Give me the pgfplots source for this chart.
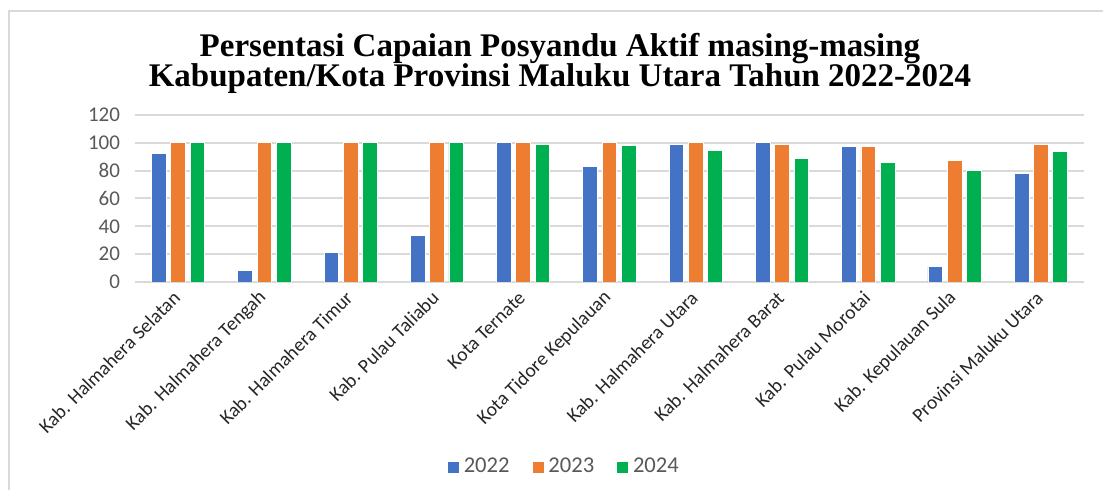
\documentclass[border=0pt]{standalone}
\usepackage{pgfplots}
\pgfplotsset{compat=1.18}
\usepackage{fontspec}
\setmainfont{Carlito}
\newfontfamily\titlefont{Liberation Serif}
\definecolor{c22}{HTML}{4472C4}
\definecolor{c23}{HTML}{ED7D31}
\definecolor{c24}{HTML}{00B050}
\definecolor{gridc}{HTML}{D9D9D9}
\definecolor{tickc}{HTML}{595959}

\begin{document}
\begin{tikzpicture}
\path[use as bounding box] (-67.5pt,-104pt) rectangle (484pt,141pt);
% chart frame (only left and top edges are visible)
\draw[gridc, line width=0.9pt] (-63pt,-104pt) -- (-63pt,135.5pt) -- (484pt,135.5pt);

\node[font=\titlefont\bfseries\fontsize{16.5}{19}\selectfont, anchor=base]
  at (212.5pt,112.5pt) {Persentasi Capaian Posyandu Aktif masing-masing};
\node[font=\titlefont\bfseries\fontsize{16.5}{19}\selectfont, anchor=base]
  at (212.5pt,97.5pt) {Kabupaten/Kota Provinsi Maluku Utara Tahun 2022-2024};

\begin{axis}[
  scale only axis,
  width=474.5pt, height=83.5pt,
  xmin=-0.5, xmax=10.5,
  ymin=0, ymax=120,
  ybar=2.3pt,
  bar width=7.35pt,
  axis line style={draw=none},
  major tick length=0pt,
  ymajorgrids,
  grid style={gridc, line width=1pt},
  ytick={0,20,...,120},
  yticklabel style={font=\fontsize{10.5}{12}\selectfont, text=tickc, xshift=-4pt},
  /pgf/number format/assume math mode=true,
  xtick={0,...,10},
  xticklabels={
    Kab. Halmahera Selatan,
    Kab. Halmahera Tengah,
    Kab. Halmahera Timur,
    Kab. Pulau Taliabu,
    Kota Ternate,
    Kota Tidore Kepulauan,
    Kab. Halmahera Utara,
    Kab. Halmahera Barat,
    Kab. Pulau Morotai,
    Kab. Kepulauan Sula,
    Provinsi Maluku Utara
  },
  xticklabel style={font=\fontsize{9.8}{11}\selectfont, rotate=45, anchor=east,
    text=black!85, xshift=-1.5pt, yshift=-4pt},
  legend image code/.code={\fill[#1] (0pt,-3pt) rectangle (6pt,3pt);},
  legend style={
    at={(0.453,-1.108)}, anchor=center,
    draw=none, legend columns=3,
    font=\fontsize{11.3}{13}\selectfont, text=tickc,
    /tikz/every even column/.append style={column sep=9pt},
  },
  every axis plot/.append style={draw=white, line width=0.4pt},
]
\addplot[fill=c22] coordinates {
  (0,92.1) (1,8.1) (2,21.3) (3,33.3) (4,100) (5,83.0)
  (6,99.0) (7,100) (8,97.4) (9,11.0) (10,78.2)
};
\addplot[fill=c23] coordinates {
  (0,100) (1,100) (2,100) (3,100) (4,100) (5,100)
  (6,100) (7,99.0) (8,97.4) (9,87.1) (10,99.0)
};
\addplot[fill=c24] coordinates {
  (0,100) (1,100) (2,100) (3,100) (4,99.0) (5,98.3)
  (6,94.7) (7,88.5) (8,85.9) (9,80.4) (10,94.0)
};
\legend{2022,2023,2024}
\end{axis}
\end{tikzpicture}
\end{document}
